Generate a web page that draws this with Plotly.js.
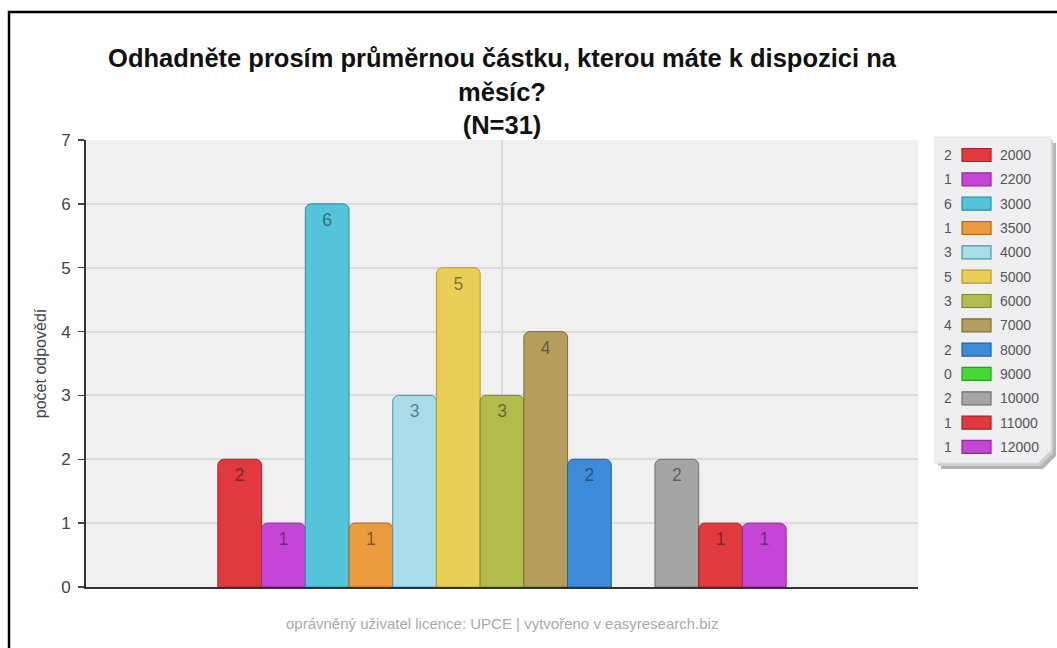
<!DOCTYPE html>
<html>
<head>
<meta charset="utf-8">
<script src="https://cdn.plot.ly/plotly-3.0.1.min.js"></script>
<style>html,body{margin:0;padding:0;background:#fff;}#chart{width:1057px;height:648px;}</style>
</head>
<body>
<div id="chart"></div>
<script>
// ---- data ----
const categories = ['2000','2200','3000','3500','4000','5000','6000','7000','8000','9000','10000','11000','12000'];
const counts = [2,1,6,1,3,5,3,4,2,0,2,1,1];
const titleText = 'Odhadněte prosím průměrnou částku, kterou máte k dispozici na<br>měsíc?<br>(N=31)';
const yAxisTitle = 'počet odpovědí';
const footerText = 'oprávněný uživatel licence: UPCE | vytvořeno v easyresearch.biz';
const yTicks = [0,1,2,3,4,5,6,7];

// ---- styles ----
const colors = ['#e0393e','#c545d6','#55c3da','#eb9a3e','#a9dde9','#e9cf58','#b3bb4c','#b59d5e','#3d8bd9','#45d934','#a5a5a5','#e0393e','#c545d6'];
const edges  = ['#a81f24','#8e2a9c','#2a8ea6','#b0661a','#3f9bb0','#b39a22','#7f8626','#7d6a34','#22609f','#22a01a','#6f6f6f','#a81f24','#8e2a9c'];

const W = 1057, H = 648, L = 86, R = 918, T = 140, B = 587;
const px2x = p => (p - L) / (R - L);
const py2y = p => (B - p) / (B - T);
const FONT = 'Liberation Sans, Arial, sans-serif';

const traces = categories.map((c, i) => ({
  type: 'bar',
  name: c,
  x: [' '],
  y: [counts[i]],
  texttemplate: '<br>%{y}',
  textposition: counts[i] > 0 ? 'inside' : 'none',
  insidetextanchor: 'end',
  textangle: 0,
  textfont: {family: FONT, size: 17.5, color: 'rgba(20,20,20,0.5)'},
  marker: {color: colors[i], line: {color: edges[i], width: counts[i] > 0 ? 1 : 0}, cornerradius: 6},
  hoverinfo: 'name+y'
}));

const shapes = [];
const annotations = [];

// frame lines
shapes.push({type:'line', xref:'paper', yref:'paper', x0:px2x(8), x1:px2x(1057), y0:py2y(12), y1:py2y(12), line:{color:'#000', width:2.5}});
shapes.push({type:'line', xref:'paper', yref:'paper', x0:px2x(9), x1:px2x(9), y0:py2y(11), y1:py2y(648), line:{color:'#000', width:2.5}});

// legend box with shadow and cut corner
function boxPath(x0, y0, x1, y1, cut) {
  return 'M' + px2x(x0) + ',' + py2y(y0) + ' L' + px2x(x1) + ',' + py2y(y0) +
         ' L' + px2x(x1) + ',' + py2y(y1 - cut) + ' L' + px2x(x1 - cut) + ',' + py2y(y1) +
         ' L' + px2x(x0) + ',' + py2y(y1) + ' Z';
}
shapes.push({type:'path', xref:'paper', yref:'paper', path: boxPath(941, 143, 1056, 469, 13), fillcolor:'#b5b5b5', line:{width:0}});
shapes.push({type:'path', xref:'paper', yref:'paper', path: boxPath(938, 140, 1053, 466, 13), fillcolor:'#cfcfcf', line:{width:0}});
shapes.push({type:'path', xref:'paper', yref:'paper', path: boxPath(935, 137, 1051, 463, 13), fillcolor:'#efeff1', line:{color:'#e2e2e4', width:1}});

categories.forEach((c, i) => {
  const cy = 155 + i * 24.33;
  shapes.push({type:'rect', xref:'paper', yref:'paper', x0:px2x(962), x1:px2x(991), y0:py2y(cy - 6.5), y1:py2y(cy + 6.5),
    fillcolor: colors[i], line:{color: edges[i], width:1.2}});
  annotations.push({xref:'paper', yref:'paper', x:px2x(948), y:py2y(cy), xanchor:'center', yanchor:'middle', showarrow:false,
    text: String(counts[i]), font:{family:FONT, size:14, color:'#555'}});
  annotations.push({xref:'paper', yref:'paper', x:px2x(998), y:py2y(cy), xanchor:'left', yanchor:'middle', showarrow:false,
    text: c, font:{family:FONT, size:14, color:'#555'}});
});

// footer
annotations.push({xref:'paper', yref:'paper', x:0.5, y:py2y(623), xanchor:'center', yanchor:'middle', showarrow:false,
  text: footerText, font:{family:FONT, size:15, color:'#aaaaaa'}});

const layout = {
  width: W, height: H,
  margin: {l: L, r: W - R, t: T, b: H - B, pad: 0},
  paper_bgcolor: '#ffffff',
  plot_bgcolor: '#f0f0f0',
  showlegend: false,
  barmode: 'group',
  bargap: 0.317,
  bargroupgap: 0,
  font: {family: FONT, color: '#444'},
  title: {
    text: titleText,
    xref: 'paper', x: 0.5, xanchor: 'center',
    yref: 'container', y: 0.896, yanchor: 'top',
    font: {family: FONT, size: 25.5, color: '#111', weight: 'bold'}
  },
  xaxis: {
    type: 'category',
    showticklabels: false,
    ticks: '',
    showgrid: true, gridcolor: '#dadada', gridwidth: 2,
    showline: true, linecolor: '#333', linewidth: 2,
    zeroline: false, fixedrange: true
  },
  yaxis: {
    range: [0, 7],
    tickvals: yTicks,
    ticktext: yTicks.map(String),
    ticks: 'outside', ticklen: 6, tickcolor: '#444', tickwidth: 1.5,
    ticklabelstandoff: 4,
    tickfont: {size: 17, color: '#444'},
    showgrid: true, gridcolor: '#dadada', gridwidth: 2,
    showline: true, linecolor: '#333', linewidth: 2,
    zeroline: false, fixedrange: true,
    title: {text: yAxisTitle, standoff: 11, font: {size: 16, color: '#444'}}
  },
  shapes: shapes,
  annotations: annotations
};

Plotly.newPlot('chart', traces, layout, {displayModeBar: false, staticPlot: true});
</script>
</body>
</html>
